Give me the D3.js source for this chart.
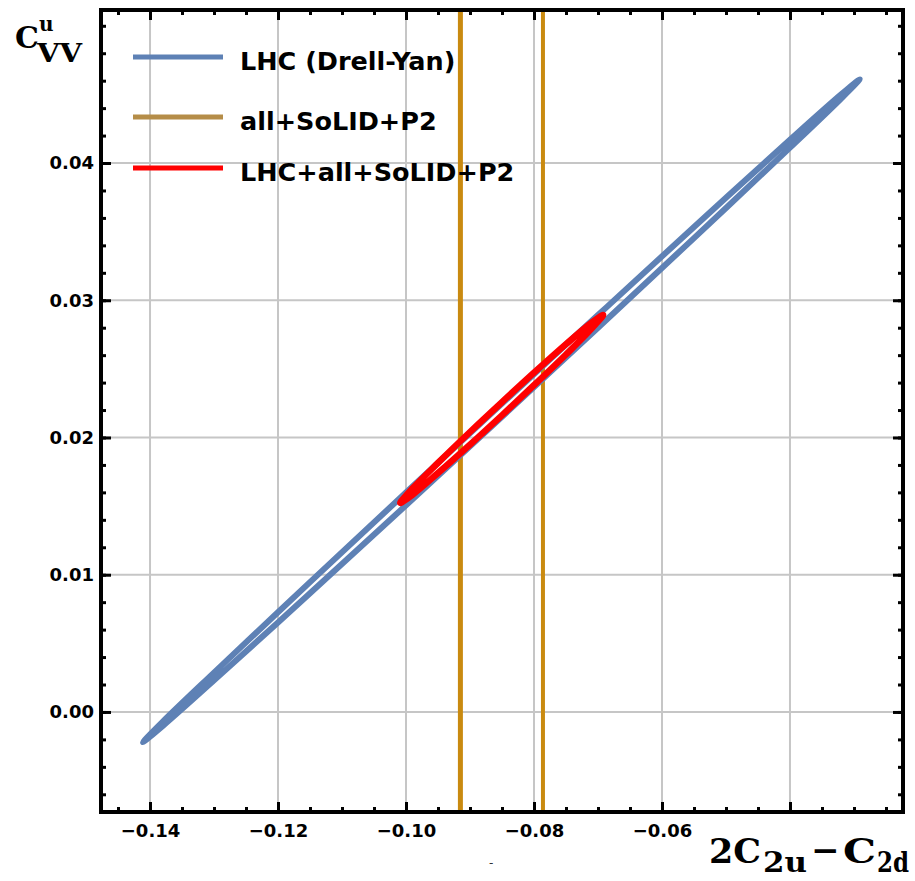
<!DOCTYPE html>
<html>
<head>
<meta charset="utf-8">
<script src="https://cdn.jsdelivr.net/npm/d3@7"></script>
<style>
  html, body { margin: 0; padding: 0; background: #fff; }
  svg { display: block; }
</style>
</head>
<body>
<div id="chart"></div>
<script>
// ---- data ----
var xMajor = [-0.14, -0.12, -0.10, -0.08, -0.06, -0.04];
var xLabelled = [-0.14, -0.12, -0.10, -0.08, -0.06];
var yMajor = [0.00, 0.01, 0.02, 0.03, 0.04];

// LHC (Drell-Yan) contour, upper edge then lower edge
var lhcContour = [
  [-0.1411, -0.0022], [-0.138, -0.00070], [-0.130, 0.00287], [-0.115, 0.00946],
  [-0.100, 0.01599], [-0.085, 0.02247], [-0.070, 0.02892], [-0.055, 0.03534],
  [-0.040, 0.04169], [-0.032, 0.04500], [-0.0291, 0.0461],
  [-0.032, 0.04470], [-0.040, 0.04112], [-0.055, 0.03453], [-0.070, 0.02800],
  [-0.085, 0.02151], [-0.100, 0.01506], [-0.115, 0.00865], [-0.130, 0.00230],
  [-0.138, -0.00102]
];

// all+SoLID+P2 band edges (vertical lines)
var solidP2Bounds = [-0.0915, -0.0786];

// LHC+all+SoLID+P2 contour
var combinedContour = [
  [-0.1009, 0.01523], [-0.099, 0.01628], [-0.095, 0.01815], [-0.090, 0.02040],
  [-0.085, 0.02258], [-0.080, 0.02472], [-0.075, 0.02680], [-0.071, 0.02837],
  [-0.0692, 0.02893],
  [-0.071, 0.02793], [-0.075, 0.02605], [-0.080, 0.02381], [-0.085, 0.02162],
  [-0.090, 0.01948], [-0.095, 0.01741], [-0.099, 0.01582]
];

var legendLabels = ["LHC (Drell-Yan)", "all+SoLID+P2", "LHC+all+SoLID+P2"];

// ---- style ----
var W = 915, H = 881;
var blue = "#5e81b5";
var orange = "#c98a10";
var orangeKey = "#b58d48";
var red = "#ff0000";
var legendColors = [blue, orangeKey, red];
var legendY = [57, 117, 168];

var svg = d3.select("#chart").append("svg")
    .attr("width", W)
    .attr("height", H);

var x = d3.scaleLinear().domain([-0.14766, -0.02234]).range([101, 903]);
var y = d3.scaleLinear().domain([-0.00729, 0.05115]).range([812, 10]);

var fmt = d3.format(".2f");
var xMinor = d3.range(-0.145, -0.024, 0.005);
var yMinor = d3.range(-0.006, 0.0505, 0.002);

var plotBottom = y.range()[0], plotTop = y.range()[1];
var plotLeft = x.range()[0], plotRight = x.range()[1];

// grid
var grid = svg.append("g");
grid.selectAll("line.gx")
    .data(xMajor)
    .enter().append("line")
    .attr("class", "gx")
    .attr("x1", d => x(d)).attr("x2", d => x(d))
    .attr("y1", plotTop).attr("y2", plotBottom)
    .attr("stroke", "#c6c6c6").attr("stroke-width", 2);
grid.selectAll("line.gy")
    .data(yMajor)
    .enter().append("line")
    .attr("class", "gy")
    .attr("y1", d => y(d)).attr("y2", d => y(d))
    .attr("x1", plotLeft).attr("x2", plotRight)
    .attr("stroke", "#c6c6c6").attr("stroke-width", 2);

// vertical band lines
svg.append("g").selectAll("line")
    .data(solidP2Bounds)
    .enter().append("line")
    .attr("x1", d => x(d)).attr("x2", d => x(d))
    .attr("y1", plotTop).attr("y2", plotBottom)
    .attr("stroke", orange)
    .attr("stroke-width", (d, i) => i === 0 ? 5 : 4);

var contour = d3.line()
    .x(d => x(d[0]))
    .y(d => y(d[1]))
    .curve(d3.curveCatmullRomClosed.alpha(0.5));

svg.append("path")
    .datum(lhcContour)
    .attr("d", contour)
    .attr("fill", "none")
    .attr("stroke", blue)
    .attr("stroke-width", 6)
    .attr("stroke-linejoin", "round");

svg.append("path")
    .datum(combinedContour)
    .attr("d", contour)
    .attr("fill", "none")
    .attr("stroke", red)
    .attr("stroke-width", 6.5)
    .attr("stroke-linejoin", "round");

// axes: ticks on all four sides, pointing inward
function styleAxis(g) {
  g.select(".domain").remove();
  g.selectAll(".tick line").attr("stroke", "#000").attr("stroke-width", 3);
  g.selectAll("text")
    .attr("fill", "#000")
    .style("font-family", "'DejaVu Sans', sans-serif")
    .style("font-weight", "bold")
    .style("font-size", "18px");
}

svg.append("g").attr("transform", "translate(0," + plotBottom + ")")
    .call(d3.axisBottom(x).tickValues(xMinor).tickSize(-5).tickFormat(""))
    .call(styleAxis);
svg.append("g").attr("transform", "translate(0," + plotBottom + ")")
    .call(d3.axisBottom(x).tickValues(xMajor).tickSize(-10).tickPadding(12)
      .tickFormat(d => xLabelled.indexOf(d) >= 0 ? fmt(d) : ""))
    .call(styleAxis);
svg.append("g").attr("transform", "translate(0," + plotTop + ")")
    .call(d3.axisTop(x).tickValues(xMinor).tickSize(-5).tickFormat(""))
    .call(styleAxis);
svg.append("g").attr("transform", "translate(0," + plotTop + ")")
    .call(d3.axisTop(x).tickValues(xMajor).tickSize(-10).tickFormat(""))
    .call(styleAxis);

svg.append("g").attr("transform", "translate(" + plotLeft + ",0)")
    .call(d3.axisLeft(y).tickValues(yMinor).tickSize(-5).tickFormat(""))
    .call(styleAxis);
svg.append("g").attr("transform", "translate(" + plotLeft + ",0)")
    .call(d3.axisLeft(y).tickValues(yMajor).tickSize(-10).tickPadding(7).tickFormat(fmt))
    .call(styleAxis);
svg.append("g").attr("transform", "translate(" + plotRight + ",0)")
    .call(d3.axisRight(y).tickValues(yMinor).tickSize(-5).tickFormat(""))
    .call(styleAxis);
svg.append("g").attr("transform", "translate(" + plotRight + ",0)")
    .call(d3.axisRight(y).tickValues(yMajor).tickSize(-10).tickFormat(""))
    .call(styleAxis);

// frame
svg.append("rect")
    .attr("x", plotLeft).attr("y", plotTop)
    .attr("width", plotRight - plotLeft).attr("height", plotBottom - plotTop)
    .attr("fill", "none")
    .attr("stroke", "#000")
    .attr("stroke-width", 4);

// legend
var legend = svg.append("g");
legend.selectAll("line")
    .data(legendLabels)
    .enter().append("line")
    .attr("x1", 133).attr("x2", 223)
    .attr("y1", (d, i) => legendY[i]).attr("y2", (d, i) => legendY[i])
    .attr("stroke", (d, i) => legendColors[i])
    .attr("stroke-width", 5);
legend.selectAll("text")
    .data(legendLabels)
    .enter().append("text")
    .attr("x", 240)
    .attr("y", (d, i) => legendY[i] + 13)
    .style("font-family", "'DejaVu Sans', sans-serif")
    .style("font-weight", "bold")
    .style("font-size", "25.5px")
    .attr("fill", "#000")
    .text(d => d);

// axis titles
var serif = "'DejaVu Serif', serif";
var yt = svg.append("g")
    .style("font-family", serif)
    .style("font-weight", "bold")
    .attr("fill", "#000");
yt.append("text").attr("x", 15).attr("y", 48).style("font-size", "30px").text("C");
yt.append("text").attr("x", 39).attr("y", 31).style("font-size", "20px").text("u");
yt.append("text").attr("x", 37).attr("y", 62).style("font-size", "26px")
    .attr("textLength", 45).attr("lengthAdjust", "spacingAndGlyphs").text("VV");

var xt = svg.append("g")
    .style("font-family", serif)
    .style("font-weight", "bold")
    .attr("fill", "#000");
xt.append("text").attr("x", 709).attr("y", 863).style("font-size", "34px")
    .attr("textLength", 52).attr("lengthAdjust", "spacingAndGlyphs").text("2C");
xt.append("text").attr("x", 763).attr("y", 872).style("font-size", "28px")
    .attr("textLength", 44).attr("lengthAdjust", "spacingAndGlyphs").text("2u");
xt.append("text").attr("x", 811).attr("y", 862).style("font-size", "34px").text("\u2212");
xt.append("text").attr("x", 843).attr("y", 863).style("font-size", "34px")
    .attr("textLength", 33).attr("lengthAdjust", "spacingAndGlyphs").text("C");
xt.append("text").attr("x", 877).attr("y", 872).style("font-size", "28px")
    .attr("textLength", 32).attr("lengthAdjust", "spacingAndGlyphs").text("2d");

// stray dash under the axis
svg.append("text")
    .attr("x", 489).attr("y", 867)
    .style("font-family", "'DejaVu Sans', sans-serif")
    .style("font-size", "12px")
    .attr("fill", "#333")
    .text("-");
</script>
</body>
</html>
